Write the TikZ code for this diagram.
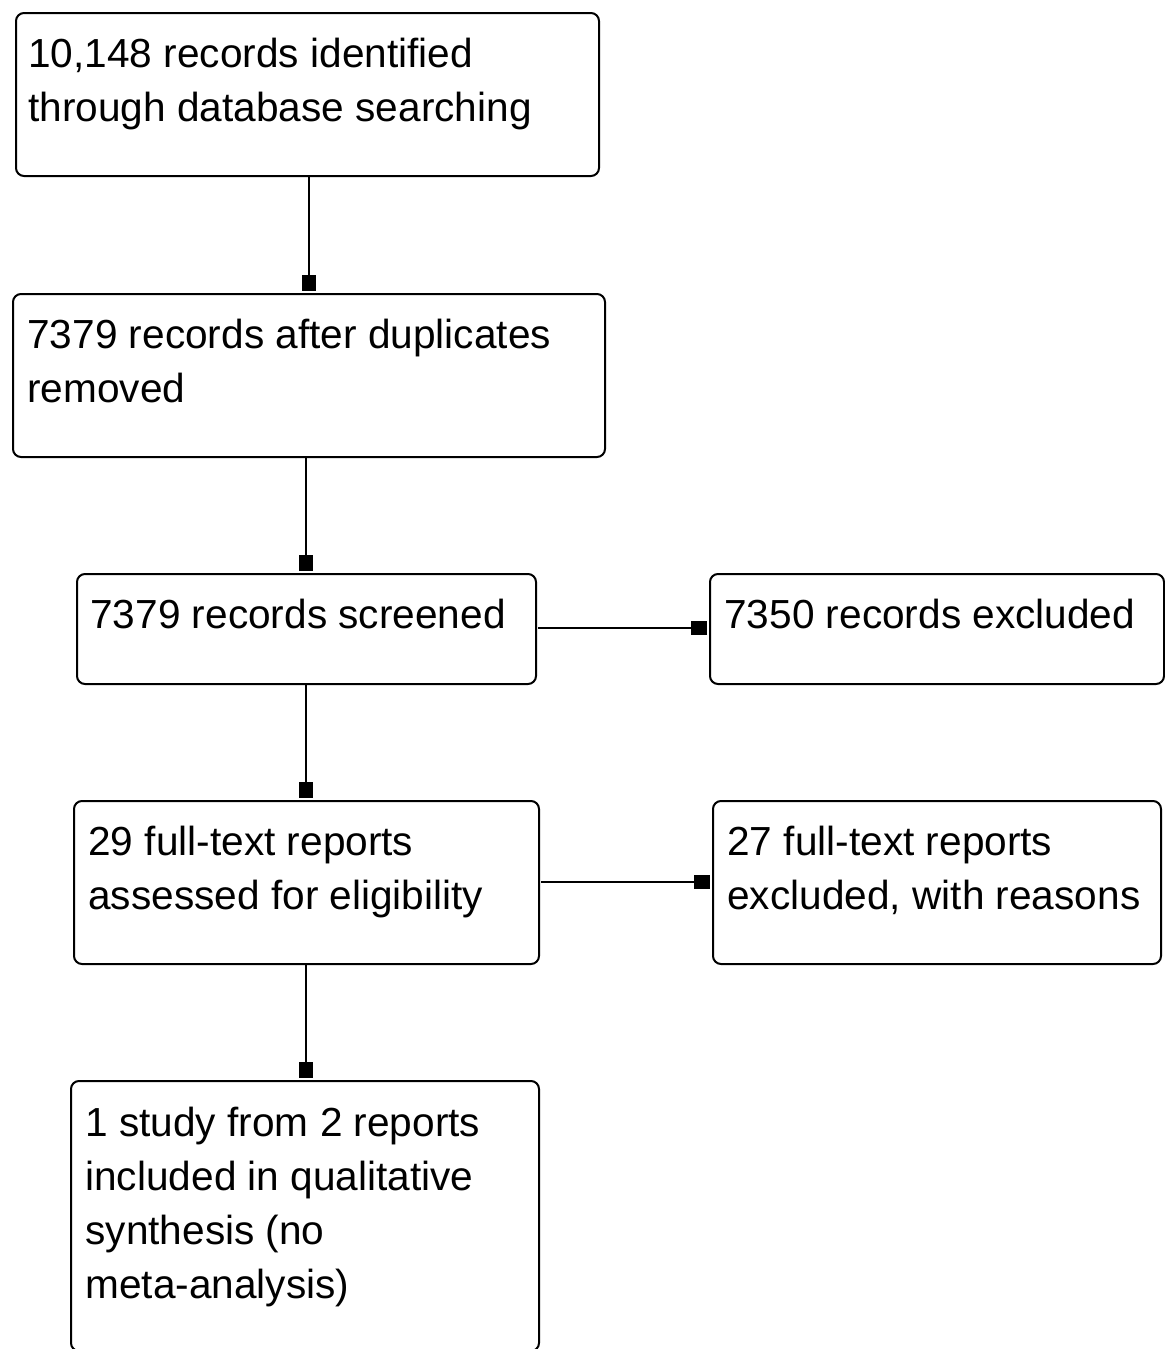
\documentclass[tikz,border=0pt]{standalone}
\usepackage{fontspec}
\setmainfont{Liberation Sans}
\usetikzlibrary{arrows.meta}
\begin{document}
\begin{tikzpicture}[x=0.5pt,y=-0.5pt,
  box/.style={draw, line width=1pt, rounded corners=4pt, inner sep=0pt, anchor=north west},
  txt/.style={anchor=north west, inner sep=0pt, align=left, font={\fontsize{20.3}{27}\selectfont}},
  conn/.style={line width=1pt, -{Rectangle[length=8pt,width=7pt]}, shorten >=1pt}]
\useasboundingbox (0,0) rectangle (1164,1349);
% boxes
\node[box, minimum width=291.5pt, minimum height=81.5pt] (b1) at (15,12) {};
\node[box, minimum width=296pt, minimum height=81.5pt] (b2) at (12,293) {};
\node[box, minimum width=229.5pt, minimum height=55pt] (b3) at (76,573) {};
\node[box, minimum width=227pt, minimum height=55pt] (b4) at (709,573) {};
\node[box, minimum width=232.5pt, minimum height=81.5pt] (b5) at (73,800) {};
\node[box, minimum width=224pt, minimum height=81.5pt] (b6) at (712,800) {};
\node[box, minimum width=234pt, minimum height=135pt] (b7) at (70,1080) {};
% texts
\node[txt] (t1) at (28,38) {10,148 records identified\\through database searching};
\node[txt] (t2) at (27,319) {7379 records after duplicates\\removed};
\node[txt] (t3) at (90,599) {7379 records screened};
\node[txt] (t4) at (724,599) {7350 records excluded};
\node[txt] (t5) at (88,826) {29 full-text reports\\assessed for eligibility};
\node[txt] (t6) at (727,826) {27 full-text reports\\excluded, with reasons};
\node[txt] (t7) at (85,1107) {1 study from 2 reports\\included in qualitative\\synthesis (no\\meta-analysis)};
% connectors
\draw[conn] (b1.south -| 309,0) -- (b2.north -| 309,0);
\draw[conn] (b2.south -| 306,0) -- (b3.north -| 306,0);
\draw[conn] (b3.south -| 306,0) -- (b5.north -| 306,0);
\draw[conn] (b5.south -| 306,0) -- (b7.north -| 306,0);
\draw[conn] (538,628) -- (b4.west |- 0,628);
\draw[conn] (541,882) -- (b6.west |- 0,882);
\end{tikzpicture}
\end{document}
